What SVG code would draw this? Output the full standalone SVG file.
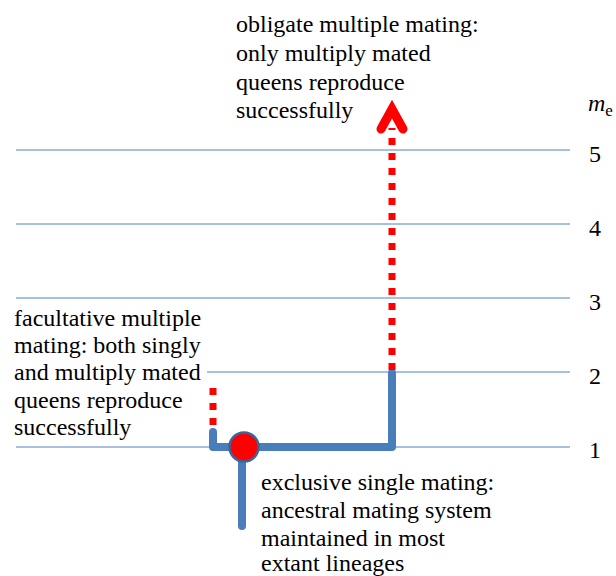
<svg xmlns="http://www.w3.org/2000/svg" width="616" height="576" viewBox="0 0 616 576">
<style>
.grid{stroke:#4f81bd;stroke-width:1.2;fill:none}
.lbl{font-family:'Liberation Serif','DejaVu Serif',serif;font-size:24px;fill:#000}
.tick{font-family:'Liberation Serif','DejaVu Serif',serif;font-size:24px;fill:#000}
.branch{stroke:#4a7ebb;stroke-width:8;fill:none;stroke-linejoin:round;stroke-linecap:round}
.dots{stroke:#ff0000;stroke-width:7;fill:none;stroke-dasharray:7 8}
</style>
<rect width="616" height="576" fill="#fff"/>
<g id="grid">
<line class="grid" x1="16" y1="150" x2="570" y2="150"/>
<line class="grid" x1="16" y1="224" x2="570" y2="224"/>
<line class="grid" x1="16" y1="298" x2="570" y2="298"/>
<line class="grid" x1="207" y1="372" x2="570" y2="372"/>
<line class="grid" x1="16" y1="447" x2="570" y2="447"/>
</g>
<g id="axis">
<text class="tick" x="588" y="111"><tspan font-style="italic">m</tspan><tspan font-size="17" dy="5">e</tspan></text>
<text class="tick" x="589" y="162">5</text>
<text class="tick" x="589" y="236">4</text>
<text class="tick" x="589" y="310">3</text>
<text class="tick" x="589" y="384">2</text>
<text class="tick" x="589" y="458">1</text>
</g>
<g id="connectors">
<path class="branch" d="M213 432 V447 H392 V373"/>
<path class="branch" d="M242 447 V526" stroke-linecap="butt"/>
<path class="dots" d="M213 388 V426"/>
<path class="dots" d="M392 370 V128"/>
<path d="M381 129 L392 109 L403 129" stroke="#ff0000" stroke-width="9" fill="none" stroke-linecap="round" stroke-linejoin="miter"/>
</g>
<g id="ancestor">
<circle cx="244" cy="447" r="14.5" fill="#ff0000" stroke="#3b659a" stroke-width="2.5"/>
</g>
<g id="obligate">
<text class="lbl" x="236" y="32">obligate multiple mating:</text>
<text class="lbl" x="236" y="61">only multiply mated</text>
<text class="lbl" x="236" y="90">queens reproduce</text>
<text class="lbl" x="236" y="118">successfully</text>
</g>
<g id="facultative">
<text class="lbl" x="14" y="326">facultative multiple</text>
<text class="lbl" x="14" y="353">mating: both singly</text>
<text class="lbl" x="14" y="380">and multiply mated</text>
<text class="lbl" x="14" y="408">queens reproduce</text>
<text class="lbl" x="14" y="435">successfully</text>
</g>
<g id="exclusive">
<text class="lbl" x="261" y="490">exclusive single mating:</text>
<text class="lbl" x="261" y="518">ancestral mating system</text>
<text class="lbl" x="261" y="546">maintained in most</text>
<text class="lbl" x="261" y="571">extant lineages</text>
</g>
</svg>
